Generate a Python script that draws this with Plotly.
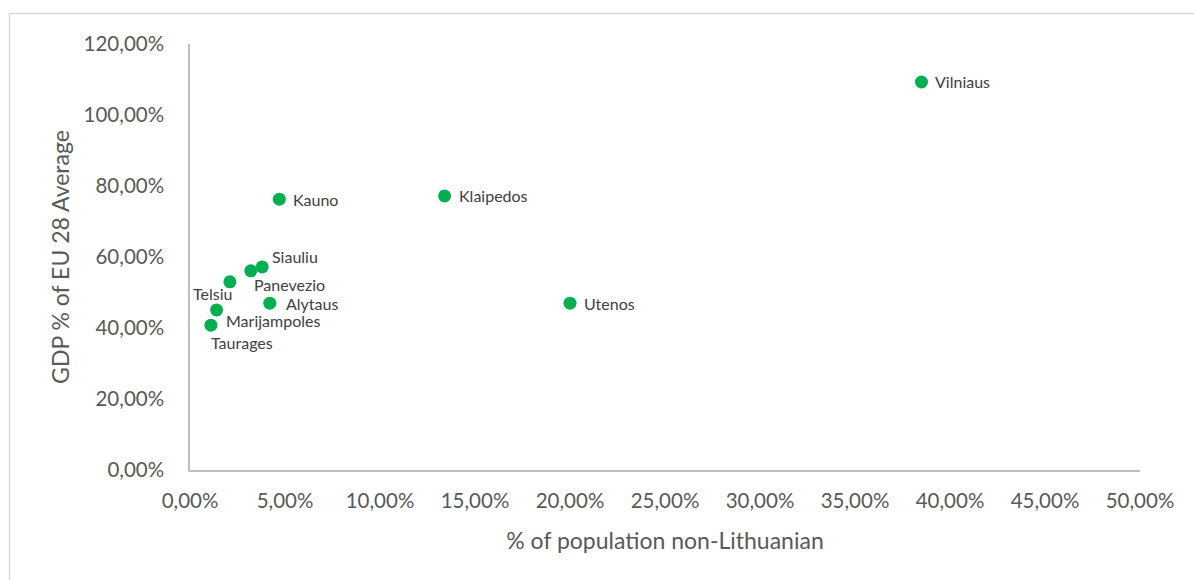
import plotly.graph_objects as go

regions = ["Vilniaus", "Klaipedos", "Kauno", "Utenos", "Siauliu", "Panevezio",
           "Telsiu", "Alytaus", "Marijampoles", "Taurages"]
non_lithuanian = [0.385, 0.134, 0.047, 0.200, 0.038, 0.032, 0.021, 0.042, 0.014, 0.011]
gdp_eu28 = [1.093, 0.772, 0.763, 0.470, 0.572, 0.561, 0.530, 0.470, 0.451, 0.408]

x_ticks = [i * 0.05 for i in range(11)]
x_tick_text = ["0,00%", "5,00%", "10,00%", "15,00%", "20,00%", "25,00%", "30,00%",
               "35,00%", "40,00%", "45,00%", "50,00%"]
y_ticks = [i * 0.2 for i in range(7)]
y_tick_text = ["0,00%", "20,00%", "40,00%", "60,00%", "80,00%", "100,00%", "120,00%"]

# label placement (pixel offsets, anchors)
label_style = {
    "Vilniaus": (11, 0, "left"),
    "Klaipedos": (12, 0, "left"),
    "Kauno": (12, 0, "left"),
    "Utenos": (12, 0, "left"),
    "Siauliu": (8, 10, "left"),
    "Panevezio": (1, -14, "left"),
    "Telsiu": (4, -12, "right"),
    "Alytaus": (14, 0, "left"),
    "Marijampoles": (7, -11, "left"),
    "Taurages": (-2, -17, "left"),
}

FONT = "Lato, 'Open Sans', sans-serif"
GREY = "#595959"

fig = go.Figure()
fig.add_trace(go.Scatter(
    x=non_lithuanian, y=gdp_eu28, mode="markers",
    marker=dict(color="#00B050", size=13, line=dict(width=0)),
    showlegend=False, hoverinfo="text", text=regions,
))

for name, xv, yv in zip(regions, non_lithuanian, gdp_eu28):
    dx, dy, anchor = label_style[name]
    fig.add_annotation(x=xv, y=yv, text=name, showarrow=False,
                       xanchor=anchor, yanchor="middle", xshift=dx, yshift=dy,
                       font=dict(family=FONT, size=16, color="#404040"))

# chart border
fig.add_shape(type="rect", xref="paper", yref="paper",
              x0=(9.5 - 190) / 950, x1=(1300 - 190) / 950,
              y0=(470 - 700) / 426, y1=(470 - 13.5) / 426,
              line=dict(color="#D9D9D9", width=1.5), fillcolor="rgba(0,0,0,0)",
              layer="below")

fig.update_layout(
    width=1194, height=580,
    margin=dict(l=190, r=54, t=44, b=110),
    paper_bgcolor="white", plot_bgcolor="white",
    font=dict(family=FONT, color=GREY),
    xaxis=dict(range=[0, 0.5], tickvals=x_ticks, ticktext=x_tick_text,
               showgrid=False, zeroline=False, showline=True,
               linecolor="#BFBFBF", linewidth=1.5,
               ticks="outside", ticklen=12, tickcolor="rgba(0,0,0,0)",
               tickfont=dict(size=20.5, color=GREY),
               title=dict(text="% of population non-Lithuanian",
                          font=dict(size=23, color=GREY), standoff=22)),
    yaxis=dict(range=[0, 1.2], tickvals=y_ticks, ticktext=y_tick_text,
               showgrid=False, zeroline=False, showline=True,
               linecolor="#BFBFBF", linewidth=1.5,
               ticks="outside", ticklen=20, tickcolor="rgba(0,0,0,0)",
               tickfont=dict(size=20.5, color=GREY),
               title=dict(text="GDP % of EU 28 Average",
                          font=dict(size=23, color=GREY), standoff=8)),
)

fig.write_html("out.html")
